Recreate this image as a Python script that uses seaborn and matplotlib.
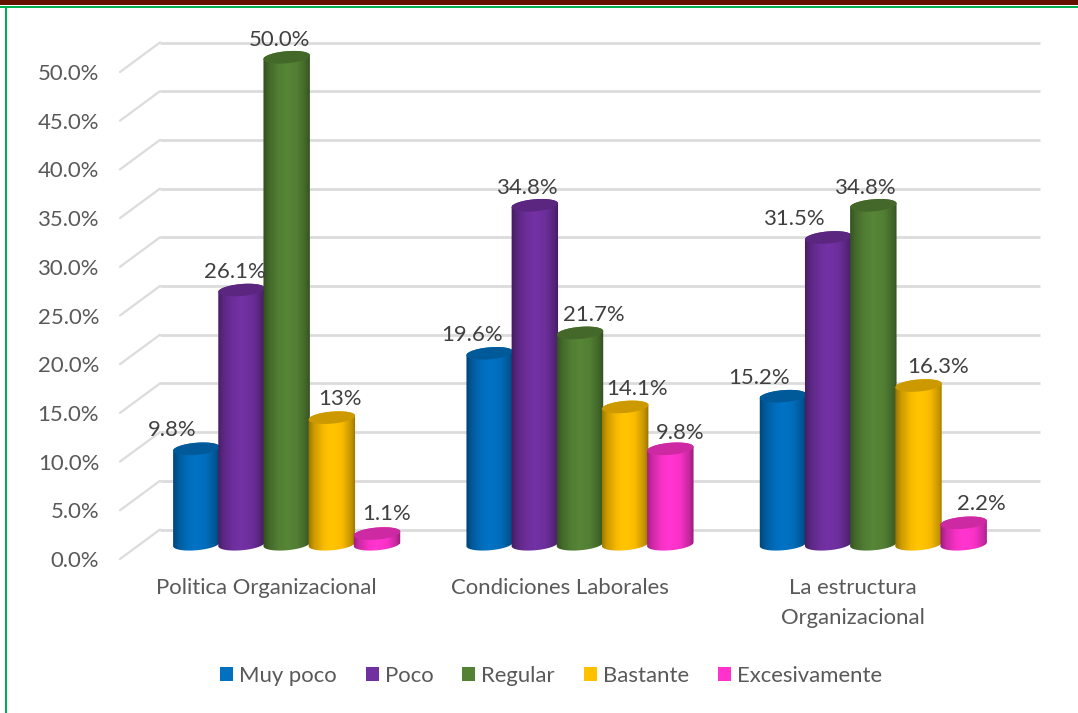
import numpy as np
import pandas as pd
import matplotlib
matplotlib.use("Agg")
import matplotlib.pyplot as plt
from matplotlib.patches import Polygon, Rectangle
from matplotlib.transforms import Affine2D
import seaborn as sns

categories = ["Politica Organizacional", "Condiciones Laborales", "La estructura\nOrganizacional"]
series = ["Muy poco", "Poco", "Regular", "Bastante", "Excesivamente"]
muy_poco = [9.8, 19.6, 15.2]
poco = [26.1, 34.8, 31.5]
regular = [50.0, 21.7, 34.8]
bastante = [13.0, 14.1, 16.3]
excesivamente = [1.1, 9.8, 2.2]
value_labels = [
    ["9.8%", "19.6%", "15.2%"],
    ["26.1%", "34.8%", "31.5%"],
    ["50.0%", "21.7%", "34.8%"],
    ["13%", "14.1%", "16.3%"],
    ["1.1%", "9.8%", "2.2%"],
]
yticks = [0, 5, 10, 15, 20, 25, 30, 35, 40, 45, 50]
colors = ["#0070C0", "#7030A0", "#548235", "#FFC000", "#FF33CC"]
# label shift from each cylinder top, in pixels (hand-placed in the original)
label_shift = [
    [(-24, 19), (-18, 18), (-24, 18.5)],
    [(-7, 18), (-7, 17.5), (-33, 18)],
    [(-7, 17.5), (14, 18), (-7.5, 17.5)],
    [(8, 19), (12, 18), (20, 18)],
    [(10, 20), (10, 16), (18, 19)],
]

df = pd.DataFrame({
    "cat": np.repeat(categories, len(series)),
    "serie": series * len(categories),
    "valor": np.array([muy_poco, poco, regular, bastante, excesivamente]).T.ravel(),
})

sns.set_theme(style="white")
plt.rcParams["font.family"] = ["Lato", "DejaVu Sans"]

W, H = 1078, 713
FS = 15.9
fig = plt.figure(figsize=(W / 100, H / 100), dpi=100)
fig.patch.set_facecolor("white")
ax = fig.add_axes([120 / W, (H - 559) / H, 880 / W, 487 / H])

sns.barplot(data=df, x="cat", y="valor", hue="serie", order=categories, hue_order=series,
            palette=colors, saturation=1, width=0.77, ax=ax, legend=True, linewidth=0)
ax.set_xlim(-0.5, 2.5)
ax.set_ylim(0, 50)
ax.set_xlabel("")
ax.set_ylabel("")
sns.despine(ax=ax, left=True, bottom=True)

px_x = 880 / 3.0      # pixels per x unit
px_y = 487 / 50.0     # pixels per percentage point
depth_x = 40 / px_x
depth_y = 29.5 / px_y

# back wall and side wall grid
grid_c = "#DCDCDC"
for v in yticks:
    ax.plot([-0.5, -0.5 + depth_x], [v, v + depth_y], color=grid_c, lw=1.6,
            clip_on=False, zorder=0.5, solid_capstyle="round")
    ax.plot([-0.5 + depth_x, 2.5 + depth_x], [v + depth_y, v + depth_y], color=grid_c, lw=2.0,
            clip_on=False, zorder=0.5, solid_capstyle="butt")

ax.set_yticks(yticks)
ax.set_yticklabels([f"{v:.1f}%" for v in yticks])
ax.tick_params(axis="y", length=0, pad=15, labelsize=FS, labelcolor="#595959")
ax.tick_params(axis="x", length=0, pad=14, labelsize=FS, labelcolor="#595959")
for t in ax.get_xticklabels():
    t.set_linespacing(1.6)


def ellipse(cx, cy, t):
    a, b, th = 23.3, 6.0, np.radians(5)
    xp = a * np.cos(t) * np.cos(th) - b * np.sin(t) * np.sin(th)
    yp = a * np.cos(t) * np.sin(th) + b * np.sin(t) * np.cos(th)
    return np.column_stack([cx + xp / px_x, cy + yp / px_y])


def shade(color):
    c = np.array(matplotlib.colors.to_rgb(color))
    pos = np.linspace(0, 1, 64)
    f = np.interp(pos, [0, 0.12, 0.32, 0.5, 0.72, 0.9, 1], [0.6, 0.8, 0.97, 1.03, 0.97, 0.78, 0.6])
    return (c[None, None, :] * f[None, :, None]).clip(0, 1)


for s, cont in enumerate(ax.containers):
    for i, bar in enumerate(cont):
        z = 2 + s * 0.1
        bar.set_transform(Affine2D().translate(depth_x / 2, depth_y / 2) + ax.transData)
        bar.set_zorder(z)
        bar.set_clip_on(False)
        cx = bar.get_x() + bar.get_width() / 2 + depth_x / 2
        base = depth_y / 2
        top = bar.get_height() + base
        body = np.vstack([ellipse(cx, base, np.linspace(np.pi, 2 * np.pi, 40)),
                          ellipse(cx, top, np.linspace(0, np.pi, 40))])
        clip = Polygon(body, closed=True, transform=ax.transData)
        half = 24 / px_x
        im = ax.imshow(shade(colors[s]), extent=(cx - half, cx + half, base - 1.5, top + 1.5),
                       aspect="auto", interpolation="bilinear", zorder=z + 0.01)
        im.set_clip_path(clip)
        im.set_clip_box(fig.bbox)
        dark = np.array(matplotlib.colors.to_rgb(colors[s])) * 0.8
        ax.add_patch(Polygon(ellipse(cx, top, np.linspace(0, 2 * np.pi, 80)), closed=True,
                             facecolor=dark, edgecolor="none", zorder=z + 0.02, clip_on=False))
        ax.annotate(value_labels[s][i], xy=(cx, top), xytext=label_shift[s][i],
                    textcoords="offset pixels", ha="center", va="center",
                    fontsize=FS, color="#404040", zorder=5, annotation_clip=False)

ax.set_xlim(-0.5, 2.5)
ax.set_ylim(0, 50)

handles, labels = ax.get_legend_handles_labels()
ax.legend(handles, labels, loc="center", bbox_to_anchor=(551 / W, (H - 676) / H),
          bbox_transform=fig.transFigure, ncol=5, frameon=False, fontsize=FS,
          labelcolor="#595959", handlelength=0.59, handleheight=0.59, handletextpad=0.28,
          columnspacing=1.3, borderpad=0)

# page frame seen at the edges of the picture
fig.add_artist(Rectangle((0, (H - 5) / H), 1, 5 / H, transform=fig.transFigure,
                         facecolor="#641100", edgecolor="none"))
fig.add_artist(Rectangle((0, (H - 7.5) / H), 1, 2 / H, transform=fig.transFigure,
                         facecolor="#00B050", edgecolor="none"))
fig.add_artist(Rectangle((5 / W, 0), 1.5 / W, (H - 6) / H, transform=fig.transFigure,
                         facecolor="#00B050", edgecolor="none"))

fig.savefig("out.png", dpi=100, facecolor="white")
